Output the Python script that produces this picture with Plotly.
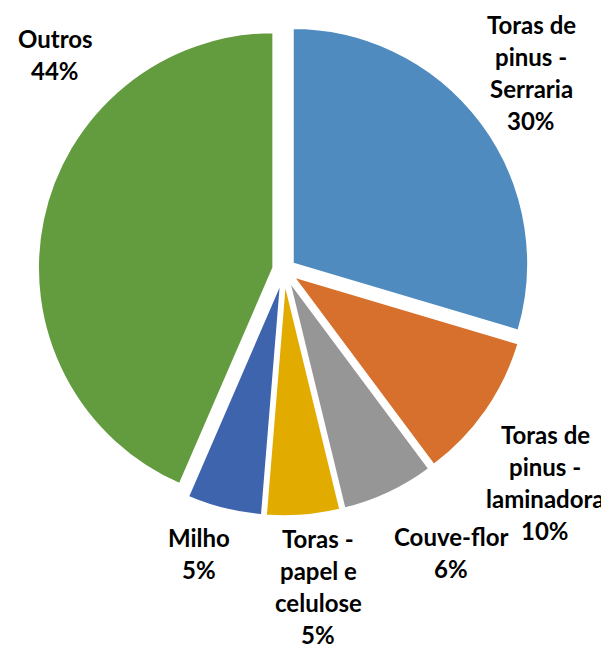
import plotly.graph_objects as go

# Data
categories = ["Toras de pinus - Serraria", "Toras de pinus - laminadora", "Couve-flor",
              "Toras - papel e celulose", "Milho", "Outros"]
label_lines = [["Toras de", "pinus -", "Serraria"], ["Toras de", "pinus -", "laminadora"],
               ["Couve-flor"], ["Toras -", "papel e", "celulose"], ["Milho"], ["Outros"]]
values = [29.6, 10.2, 6.4, 5.1, 5.2, 43.5]
colors = ["#4F8BBF", "#D6702C", "#969696", "#E2AB00", "#3E64AD", "#639B3F"]

# label placement (pixel centres of each text block, layout only)
label_pos = [(523, 71), (537, 481), (443, 551), (310, 585), (191, 552), (47, 54)]
LINE_H = 32
TEXT_DY = -7

W, H = 609, 648
total = sum(values)
cx, cy, half = 276, 262, 246.5

fig = go.Figure()
fig.add_trace(go.Pie(
    labels=categories, values=values, sort=False, direction="clockwise", rotation=0,
    marker=dict(colors=colors, line=dict(color="white", width=2.5)),
    pull=[0.045] * len(values), textinfo="none", showlegend=False,
    domain=dict(x=[(cx - half) / W, (cx + half) / W],
                y=[(H - cy - half) / H, (H - cy + half) / H]),
))

for lines, v, (px, py) in zip(label_lines, values, label_pos):
    lines = lines + [f"{round(v / total * 100):d}%"]
    n = len(lines)
    for i, ln in enumerate(lines):
        ly = py + TEXT_DY + (i - (n - 1) / 2) * LINE_H
        fig.add_annotation(
            x=px / W, y=1 - ly / H, xref="paper", yref="paper",
            text=f"<b>{ln}</b>", showarrow=False, xanchor="center", yanchor="middle",
            font=dict(family="Lato", size=24, color="black"),
        )

fig.update_layout(width=W, height=H, margin=dict(l=0, r=0, t=0, b=0),
                  paper_bgcolor="white", plot_bgcolor="white")
fig.write_html("out.html")
